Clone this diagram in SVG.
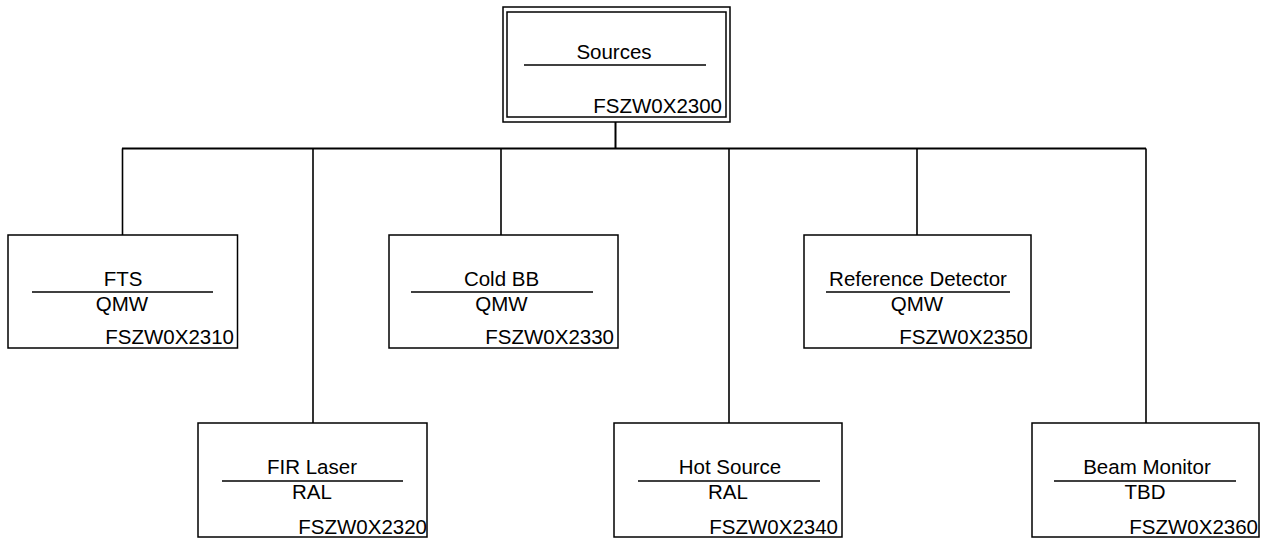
<svg xmlns="http://www.w3.org/2000/svg" width="1264" height="538" viewBox="0 0 1264 538">
  <style>
    .box { fill: #ffffff; stroke: #000000; stroke-width: 1.5; }
    .rule { stroke: #000000; stroke-width: 1.5; }
    .wire { fill: none; stroke: #000000; stroke-width: 1.6; }
    .bus { fill: none; stroke: #000000; stroke-width: 2; }
    text { font-family: "Liberation Sans", Arial, sans-serif; font-size: 20.5px; fill: #000000; }
    .mid { text-anchor: middle; }
    .code { text-anchor: end; }
  </style>

  <!-- tree connectors -->
  <g id="connectors">
    <path class="bus" d="M615.5 122 V148.5 M122 148.5 H1146"/>
    <path class="wire" d="M122.5 148.5 V235"/>
    <path class="wire" d="M313 148.5 V423"/>
    <path class="wire" d="M501 148.5 V235"/>
    <path class="wire" d="M729 148.5 V423"/>
    <path class="wire" d="M917 148.5 V235"/>
    <path class="wire" d="M1146 148.5 V423"/>
  </g>

  <!-- root node: double border -->
  <g id="sources">
    <rect class="box" x="503" y="7" width="227" height="115"/>
    <rect class="box" x="507" y="12" width="219" height="105"/>
    <text class="mid" x="614" y="59">Sources</text>
    <line class="rule" x1="524" y1="65" x2="706" y2="65"/>
    <text class="code" x="722" y="113">FSZW0X2300</text>
  </g>

  <g id="fts">
    <rect class="box" x="8" y="235" width="229.5" height="113"/>
    <text class="mid" x="123" y="285.5">FTS</text>
    <line class="rule" x1="32" y1="292" x2="213" y2="292"/>
    <text class="mid" x="122" y="311">QMW</text>
    <text class="code" x="234" y="343.5">FSZW0X2310</text>
  </g>

  <g id="fir-laser">
    <rect class="box" x="198" y="423" width="229" height="114"/>
    <text class="mid" x="312" y="474">FIR Laser</text>
    <line class="rule" x1="222" y1="481" x2="403" y2="481"/>
    <text class="mid" x="312" y="499">RAL</text>
    <text class="code" x="427" y="534">FSZW0X2320</text>
  </g>

  <g id="cold-bb">
    <rect class="box" x="389" y="235" width="229" height="113"/>
    <text class="mid" x="501.5" y="285.5">Cold BB</text>
    <line class="rule" x1="411" y1="292" x2="593" y2="292"/>
    <text class="mid" x="501.5" y="311">QMW</text>
    <text class="code" x="614" y="343.5">FSZW0X2330</text>
  </g>

  <g id="hot-source">
    <rect class="box" x="614" y="423" width="228" height="114"/>
    <text class="mid" x="730" y="474">Hot Source</text>
    <line class="rule" x1="638" y1="481" x2="820" y2="481"/>
    <text class="mid" x="728" y="499">RAL</text>
    <text class="code" x="838" y="534">FSZW0X2340</text>
  </g>

  <g id="reference-detector">
    <rect class="box" x="804" y="235" width="227" height="113"/>
    <text class="mid" x="918" y="285.5">Reference Detector</text>
    <line class="rule" x1="826" y1="292" x2="1010" y2="292"/>
    <text class="mid" x="917" y="311">QMW</text>
    <text class="code" x="1028" y="343.5">FSZW0X2350</text>
  </g>

  <g id="beam-monitor">
    <rect class="box" x="1032" y="423" width="227" height="114"/>
    <text class="mid" x="1147" y="474">Beam Monitor</text>
    <line class="rule" x1="1054" y1="481" x2="1236" y2="481"/>
    <text class="mid" x="1145" y="499">TBD</text>
    <text class="code" x="1258" y="534">FSZW0X2360</text>
  </g>
</svg>
